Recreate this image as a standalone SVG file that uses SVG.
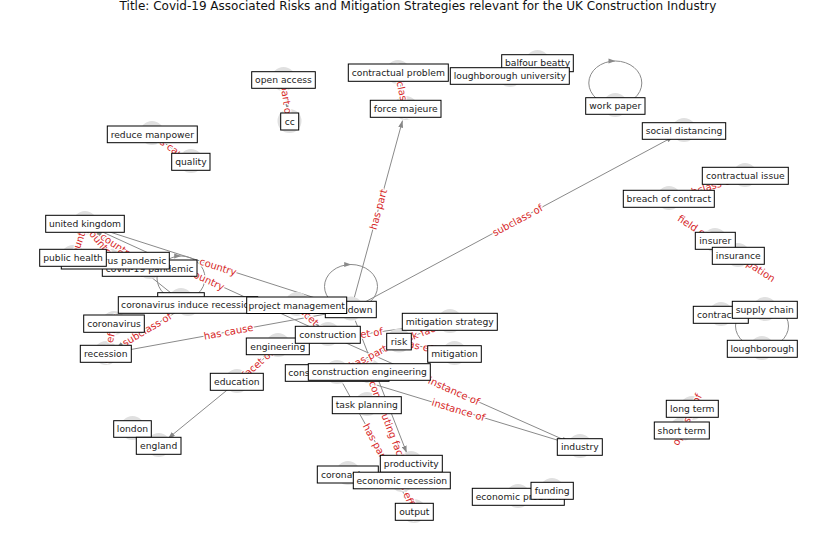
<svg xmlns="http://www.w3.org/2000/svg" width="837" height="559" viewBox="0 0 837 559">
<defs>
<marker id="ah" viewBox="0 0 10 10" refX="10" refY="5" markerWidth="7" markerHeight="5" markerUnits="userSpaceOnUse" orient="auto" preserveAspectRatio="none"><path d="M0,0 L10,5 L0,10 z" fill="#888"/></marker>
<style>
.title{font-family:"DejaVu Sans",sans-serif;font-size:12px;fill:#111;text-anchor:middle}
.e{stroke:#8a8a8a;stroke-width:1;fill:none}
.ea{stroke:#8a8a8a;stroke-width:1;fill:none;marker-end:url(#ah)}
.lp{fill:#8a8a8a}
.c{fill:#e0e0e0}
.b{fill:#fff;stroke:#000;stroke-width:1}
.t{font-family:"DejaVu Sans",sans-serif;font-size:9.2px;fill:#222;text-anchor:middle}
.el{font-family:"DejaVu Sans",sans-serif;font-size:10px;fill:#d62728;text-anchor:middle;stroke:#fff;stroke-width:2.5;paint-order:stroke;stroke-linejoin:round}
</style>
</defs>
<rect width="837" height="559" fill="#fff"/>
<text class="title" x="418" y="10">Title: Covid-19 Associated Risks and Mitigation Strategies relevant for the UK Construction Industry</text>

<g id="edges">
<line class="ea" x1="285.2" y1="91.9" x2="287.8" y2="109.6"/>
<line class="ea" x1="161.75" y1="141" x2="181.25" y2="155"/>
<line class="ea" x1="403.2" y1="97.3" x2="400.5" y2="84.7"/>
<line class="ea" x1="354.2" y1="297.9" x2="402.5" y2="120.6"/>
<line class="ea" x1="361.6" y1="303.8" x2="673.4" y2="136.7"/>
<line class="ea" x1="680.5" y1="195.5" x2="733.5" y2="179.5"/>
<line class="ea" x1="725" y1="247.5" x2="728" y2="249.5"/>
<line class="ea" x1="339.6" y1="305.8" x2="96.4" y2="227.7"/>
<line class="ea" x1="317.1" y1="330" x2="95.9" y2="229"/>
<line class="ea" x1="77" y1="246.7" x2="81" y2="235.3"/>
<line class="ea" x1="107.8" y1="251.5" x2="92.7" y2="233.2"/>
<line class="ea" x1="139.8" y1="261.25" x2="94.9" y2="230.75"/>
<line class="ea" x1="171.6" y1="293.5" x2="94.4" y2="231.5"/>
<line class="ea" x1="339.2" y1="311.6" x2="117.8" y2="351.9"/>
<line class="ea" x1="177.7" y1="311.2" x2="116.3" y2="347.8"/>
<line class="ea" x1="110.9" y1="335.3" x2="109.1" y2="342.4"/>
<line class="ea" x1="339" y1="339.9" x2="569" y2="442.1"/>
<line class="ea" x1="348.5" y1="376.5" x2="568.5" y2="443.5"/>
<line class="ea" x1="227.7" y1="389.6" x2="168" y2="438.4"/>
<line class="ea" x1="342.8" y1="383.5" x2="408.2" y2="501.5"/>
<line class="ea" x1="355.3" y1="320.7" x2="406.7" y2="452.8"/>
<line class="ea" x1="289.9" y1="344.3" x2="438.1" y2="323.7"/>
<line class="ea" x1="245.5" y1="374.5" x2="269.5" y2="353.5"/>
<line class="ea" x1="406" y1="491.5" x2="410" y2="500.5"/>
<line class="ea" x1="305.6" y1="313.3" x2="319.4" y2="326.7"/>
<line class="ea" x1="347.7" y1="367.5" x2="388.3" y2="347"/>
<line class="ea" x1="410.2" y1="337.2" x2="438.8" y2="326.3"/>
<line class="ea" x1="410.7" y1="344.2" x2="442.8" y2="351.3"/>
<ellipse class="e" cx="615.3" cy="83" rx="26.5" ry="22"/>
<polygon class="lp" points="615.5,61 608.5,58.5 608.5,63.5"/>
<ellipse class="e" cx="351" cy="286.5" rx="26.5" ry="22"/>
<polygon class="lp" points="351.2,264.5 344.2,262 344.2,267"/>
<ellipse class="e" cx="181" cy="278" rx="24" ry="22"/>
<polygon class="lp" points="181.2,256 174.2,253.5 174.2,258.5"/>
<ellipse class="e" cx="762" cy="326" rx="26.5" ry="22"/>
</g>

<g id="node-circles">
<circle class="c" cx="283.5" cy="79" r="12"/>
<circle class="c" cx="289.5" cy="121" r="12"/>
<circle class="c" cx="152" cy="133" r="12"/>
<circle class="c" cx="191" cy="161" r="12"/>
<circle class="c" cx="398" cy="72" r="12"/>
<circle class="c" cx="405.7" cy="108" r="12"/>
<circle class="c" cx="537.5" cy="62" r="12"/>
<circle class="c" cx="510" cy="75" r="12"/>
<circle class="c" cx="615.3" cy="105" r="12"/>
<circle class="c" cx="684" cy="130" r="12"/>
<circle class="c" cx="745" cy="175" r="12"/>
<circle class="c" cx="669" cy="198" r="12"/>
<circle class="c" cx="715" cy="240" r="12"/>
<circle class="c" cx="738" cy="255" r="12"/>
<circle class="c" cx="721" cy="314" r="12"/>
<circle class="c" cx="765" cy="309" r="12"/>
<circle class="c" cx="762" cy="348" r="12"/>
<circle class="c" cx="692" cy="408" r="12"/>
<circle class="c" cx="682" cy="429" r="12"/>
<circle class="c" cx="580" cy="446" r="12"/>
<circle class="c" cx="552" cy="490" r="12"/>
<circle class="c" cx="518" cy="496" r="12"/>
<circle class="c" cx="348" cy="473" r="12"/>
<circle class="c" cx="411" cy="463" r="12"/>
<circle class="c" cx="402" cy="480" r="12"/>
<circle class="c" cx="414" cy="511" r="12"/>
<circle class="c" cx="367" cy="404" r="12"/>
<circle class="c" cx="369" cy="371" r="12"/>
<circle class="c" cx="337" cy="372" r="12"/>
<circle class="c" cx="328" cy="334" r="12"/>
<circle class="c" cx="278" cy="345" r="12"/>
<circle class="c" cx="297" cy="304" r="12"/>
<circle class="c" cx="351" cy="308.5" r="12"/>
<circle class="c" cx="399" cy="340.5" r="12"/>
<circle class="c" cx="450" cy="321" r="12"/>
<circle class="c" cx="454.5" cy="353" r="12"/>
<circle class="c" cx="237" cy="381" r="12"/>
<circle class="c" cx="132.5" cy="428" r="12"/>
<circle class="c" cx="158.7" cy="445" r="12"/>
<circle class="c" cx="85" cy="223" r="12"/>
<circle class="c" cx="73" cy="257" r="12"/>
<circle class="c" cx="115.5" cy="260" r="12"/>
<circle class="c" cx="149.7" cy="267" r="12"/>
<circle class="c" cx="181" cy="300" r="12"/>
<circle class="c" cx="188" cy="304" r="12"/>
<circle class="c" cx="114" cy="323" r="12"/>
<circle class="c" cx="106" cy="353" r="12"/>
</g>

<g id="edge-labels">
<text class="el" transform="translate(286.5,100.75) rotate(81.8)" y="3.5">part of</text>
<text class="el" transform="translate(171.5,148) rotate(35.7)" y="3.5">has cause</text>
<text class="el" transform="translate(401.9,91) rotate(78)" y="3.5">subclass of</text>
<text class="el" transform="translate(378.4,209.3) rotate(-74.7)" y="3.5">has part</text>
<text class="el" transform="translate(517.5,220.25) rotate(-28.2)" y="3.5">subclass of</text>
<text class="el" transform="translate(707,187.5) rotate(-16.8)" y="3.5">subclass of</text>
<text class="el" transform="translate(726.5,248.5) rotate(33.1)" y="3.5">field of this occupation</text>
<text class="el" transform="translate(687,419.5) rotate(-64.5)" y="3.5">opposite of</text>
<text class="el" transform="translate(218,266.75) rotate(17.8)" y="3.5">country</text>
<text class="el" transform="translate(206.5,279.5) rotate(24.5)" y="3.5">country</text>
<text class="el" transform="translate(79,241) rotate(-70.6)" y="3.5">country</text>
<text class="el" transform="translate(100.25,242.35) rotate(50.3)" y="3.5">country</text>
<text class="el" transform="translate(117.35,246) rotate(34.2)" y="3.5">country</text>
<text class="el" transform="translate(133,262.5) rotate(38.7)" y="3.5">country</text>
<text class="el" transform="translate(228.5,331.75) rotate(-10.3)" y="3.5">has cause</text>
<text class="el" transform="translate(147,329.5) rotate(-30.9)" y="3.5">subclass of</text>
<text class="el" transform="translate(110,338.85) rotate(-75.2)" y="3.5">has effect</text>
<text class="el" transform="translate(454,391) rotate(24)" y="3.5">instance of</text>
<text class="el" transform="translate(458.5,410) rotate(16.9)" y="3.5">instance of</text>
<text class="el" transform="translate(375.5,442.5) rotate(61)" y="3.5">has part</text>
<text class="el" transform="translate(385,415) rotate(68.8)" y="3.5">has contributing factor</text>
<text class="el" transform="translate(364,334) rotate(-8)" y="3.5">facet of</text>
<text class="el" transform="translate(257.5,364) rotate(-41.3)" y="3.5">facet of</text>
<text class="el" transform="translate(408,496) rotate(69)" y="3.5">has effect</text>
<text class="el" transform="translate(312.5,320) rotate(44)" y="3.5">facet of</text>
<text class="el" transform="translate(368,357) rotate(-27)" y="3.5">has part</text>
<text class="el" transform="translate(424.5,331.75) rotate(-20.9)" y="3.5">risk factor</text>
<text class="el" transform="translate(426.75,347.75) rotate(12.7)" y="3.5">has effect</text>
</g>

<g id="n-open-access"><rect class="b" x="251.7" y="71.7" width="63.6" height="16.6"/><text class="t" x="283.5" y="83.2">open access</text></g>
<g id="n-cc"><rect class="b" x="280.7" y="113" width="18" height="17"/><text class="t" x="289.7" y="124.7">cc</text></g>
<g id="n-reduce-manpower"><rect class="b" x="107.3" y="126" width="90" height="16.7"/><text class="t" x="152.3" y="137.5">reduce manpower</text></g>
<g id="n-quality"><rect class="b" x="171.7" y="153.3" width="38.3" height="17"/><text class="t" x="190.9" y="165">quality</text></g>
<g id="n-contractual-problem"><rect class="b" x="348.3" y="64" width="100" height="17.3"/><text class="t" x="398.3" y="75.8">contractual problem</text></g>
<g id="n-force-majeure"><rect class="b" x="370.3" y="100.3" width="70.7" height="17"/><text class="t" x="405.7" y="112">force majeure</text></g>
<g id="n-balfour-beatty"><rect class="b" x="501.7" y="54.7" width="71.6" height="17"/><text class="t" x="537.5" y="66.4">balfour beatty</text></g>
<g id="n-loughborough-university"><rect class="b" x="450.3" y="67.7" width="119" height="16.6"/><text class="t" x="509.8" y="79.2">loughborough university</text></g>
<g id="n-work-paper"><rect class="b" x="585.7" y="97.7" width="59.3" height="16.6"/><text class="t" x="615.3" y="109.2">work paper</text></g>
<g id="n-social-distancing"><rect class="b" x="642.3" y="122.7" width="83.4" height="16.6"/><text class="t" x="684" y="134.2">social distancing</text></g>
<g id="n-contractual-issue"><rect class="b" x="702.3" y="167.3" width="86" height="17"/><text class="t" x="745.3" y="179">contractual issue</text></g>
<g id="n-breach-of-contract"><rect class="b" x="623.3" y="190.3" width="91" height="17"/><text class="t" x="668.8" y="202">breach of contract</text></g>
<g id="n-insurer"><rect class="b" x="695.3" y="232.3" width="40" height="17"/><text class="t" x="715.3" y="244">insurer</text></g>
<g id="n-insurance"><rect class="b" x="712.3" y="247.3" width="52" height="17"/><text class="t" x="738.3" y="259">insurance</text></g>
<g id="n-contractor"><rect class="b" x="693.3" y="306.3" width="55" height="17"/><text class="t" x="720.8" y="318">contractor</text></g>
<g id="n-supply-chain"><rect class="b" x="732.3" y="301.3" width="65" height="17"/><text class="t" x="764.8" y="313">supply chain</text></g>
<g id="n-loughborough"><rect class="b" x="727.3" y="340.3" width="70" height="17"/><text class="t" x="762.3" y="352">loughborough</text></g>
<g id="n-long-term"><rect class="b" x="666.3" y="400.3" width="52" height="17"/><text class="t" x="692.3" y="412">long term</text></g>
<g id="n-short-term"><rect class="b" x="654.3" y="422" width="55" height="17"/><text class="t" x="681.8" y="433.7">short term</text></g>
<g id="n-industry"><rect class="b" x="557.3" y="438.7" width="45" height="16.6"/><text class="t" x="579.8" y="450.2">industry</text></g>
<g id="n-economic-problem"><rect class="b" x="472.3" y="488.3" width="92" height="17"/><text class="t" x="518.3" y="500">economic problem</text></g>
<g id="n-funding"><rect class="b" x="531" y="482.3" width="42.3" height="17"/><text class="t" x="552.2" y="494">funding</text></g>
<g id="n-coronavirus-2"><rect class="b" x="317.3" y="466" width="61" height="17"/><text class="t" x="347.8" y="477.7">coronavirus</text></g>
<g id="n-productivity"><rect class="b" x="380.3" y="455.3" width="62" height="17"/><text class="t" x="411.3" y="467">productivity</text></g>
<g id="n-economic-recession"><rect class="b" x="353.3" y="472.2" width="97" height="16.6"/><text class="t" x="401.8" y="483.7">economic recession</text></g>
<g id="n-output"><rect class="b" x="395.3" y="503.3" width="38" height="17"/><text class="t" x="414.3" y="515">output</text></g>
<g id="n-task-planning"><rect class="b" x="332.3" y="396.7" width="69" height="17"/><text class="t" x="366.8" y="408.4">task planning</text></g>
<g id="n-construction-industry"><rect class="b" x="285.3" y="364.7" width="103.7" height="16.6"/><text class="t" x="337.1" y="376.2">construction industry</text></g>
<g id="n-construction-engineering"><rect class="b" x="308.3" y="363.7" width="122" height="16.6"/><text class="t" x="369.3" y="375.2">construction engineering</text></g>
<g id="n-engineering"><rect class="b" x="246.3" y="338" width="63" height="16.7"/><text class="t" x="277.8" y="349.5">engineering</text></g>
<g id="n-construction"><rect class="b" x="295.3" y="326.3" width="65" height="17"/><text class="t" x="327.8" y="338">construction</text></g>
<g id="n-lockdown"><rect class="b" x="325.3" y="301.3" width="51" height="16.4"/><text class="t" x="350.8" y="312.7">lockdown</text></g>
<g id="n-risk"><rect class="b" x="386.7" y="333.3" width="24.6" height="16.6"/><text class="t" x="399" y="344.8">risk</text></g>
<g id="n-mitigation-strategy"><rect class="b" x="402.3" y="313.3" width="95" height="17"/><text class="t" x="449.8" y="325">mitigation strategy</text></g>
<g id="n-mitigation"><rect class="b" x="427.7" y="345.7" width="53.6" height="16.6"/><text class="t" x="454.5" y="357.2">mitigation</text></g>
<g id="n-education"><rect class="b" x="210.3" y="373.3" width="53" height="17"/><text class="t" x="236.8" y="385">education</text></g>
<g id="n-london"><rect class="b" x="113.7" y="420.7" width="37.6" height="16.6"/><text class="t" x="132.5" y="432.2">london</text></g>
<g id="n-england"><rect class="b" x="136.3" y="437.3" width="44.7" height="17"/><text class="t" x="158.7" y="449">england</text></g>
<g id="n-united-kingdom"><rect class="b" x="45.7" y="215.3" width="78.6" height="17"/><text class="t" x="85" y="227">united kingdom</text></g>
<g id="n-covid-19-pandemic"><rect class="b" x="102.3" y="260" width="94.7" height="16.3"/><text class="t" x="149.7" y="271.5">covid-19 pandemic</text></g>
<g id="n-coronavirus-pandemic"><rect class="b" x="61.3" y="252.3" width="108" height="16.7"/><text class="t" x="115.3" y="263.9">coronavirus pandemic</text></g>
<g id="n-public-health"><rect class="b" x="39.7" y="249.3" width="66.6" height="17"/><text class="t" x="73" y="261">public health</text></g>
<g id="n-covid-19"><rect class="b" x="157.7" y="292.7" width="46.6" height="17"/><text class="t" x="181" y="304.4">covid-19</text></g>
<g id="n-coronavirus-induce-recession"><rect class="b" x="118.3" y="296.7" width="139.4" height="16.6"/><text class="t" x="188" y="308.2">coronavirus induce recession</text></g>
<g id="n-project-management"><rect class="b" x="246.7" y="297" width="100" height="16.5"/><text class="t" x="296.7" y="308.5">project management</text></g>
<g id="n-coronavirus"><rect class="b" x="83.7" y="315" width="60.6" height="17.3"/><text class="t" x="114" y="326.9">coronavirus</text></g>
<g id="n-recession"><rect class="b" x="80.3" y="345.3" width="51" height="17"/><text class="t" x="105.8" y="357">recession</text></g>
</svg>
